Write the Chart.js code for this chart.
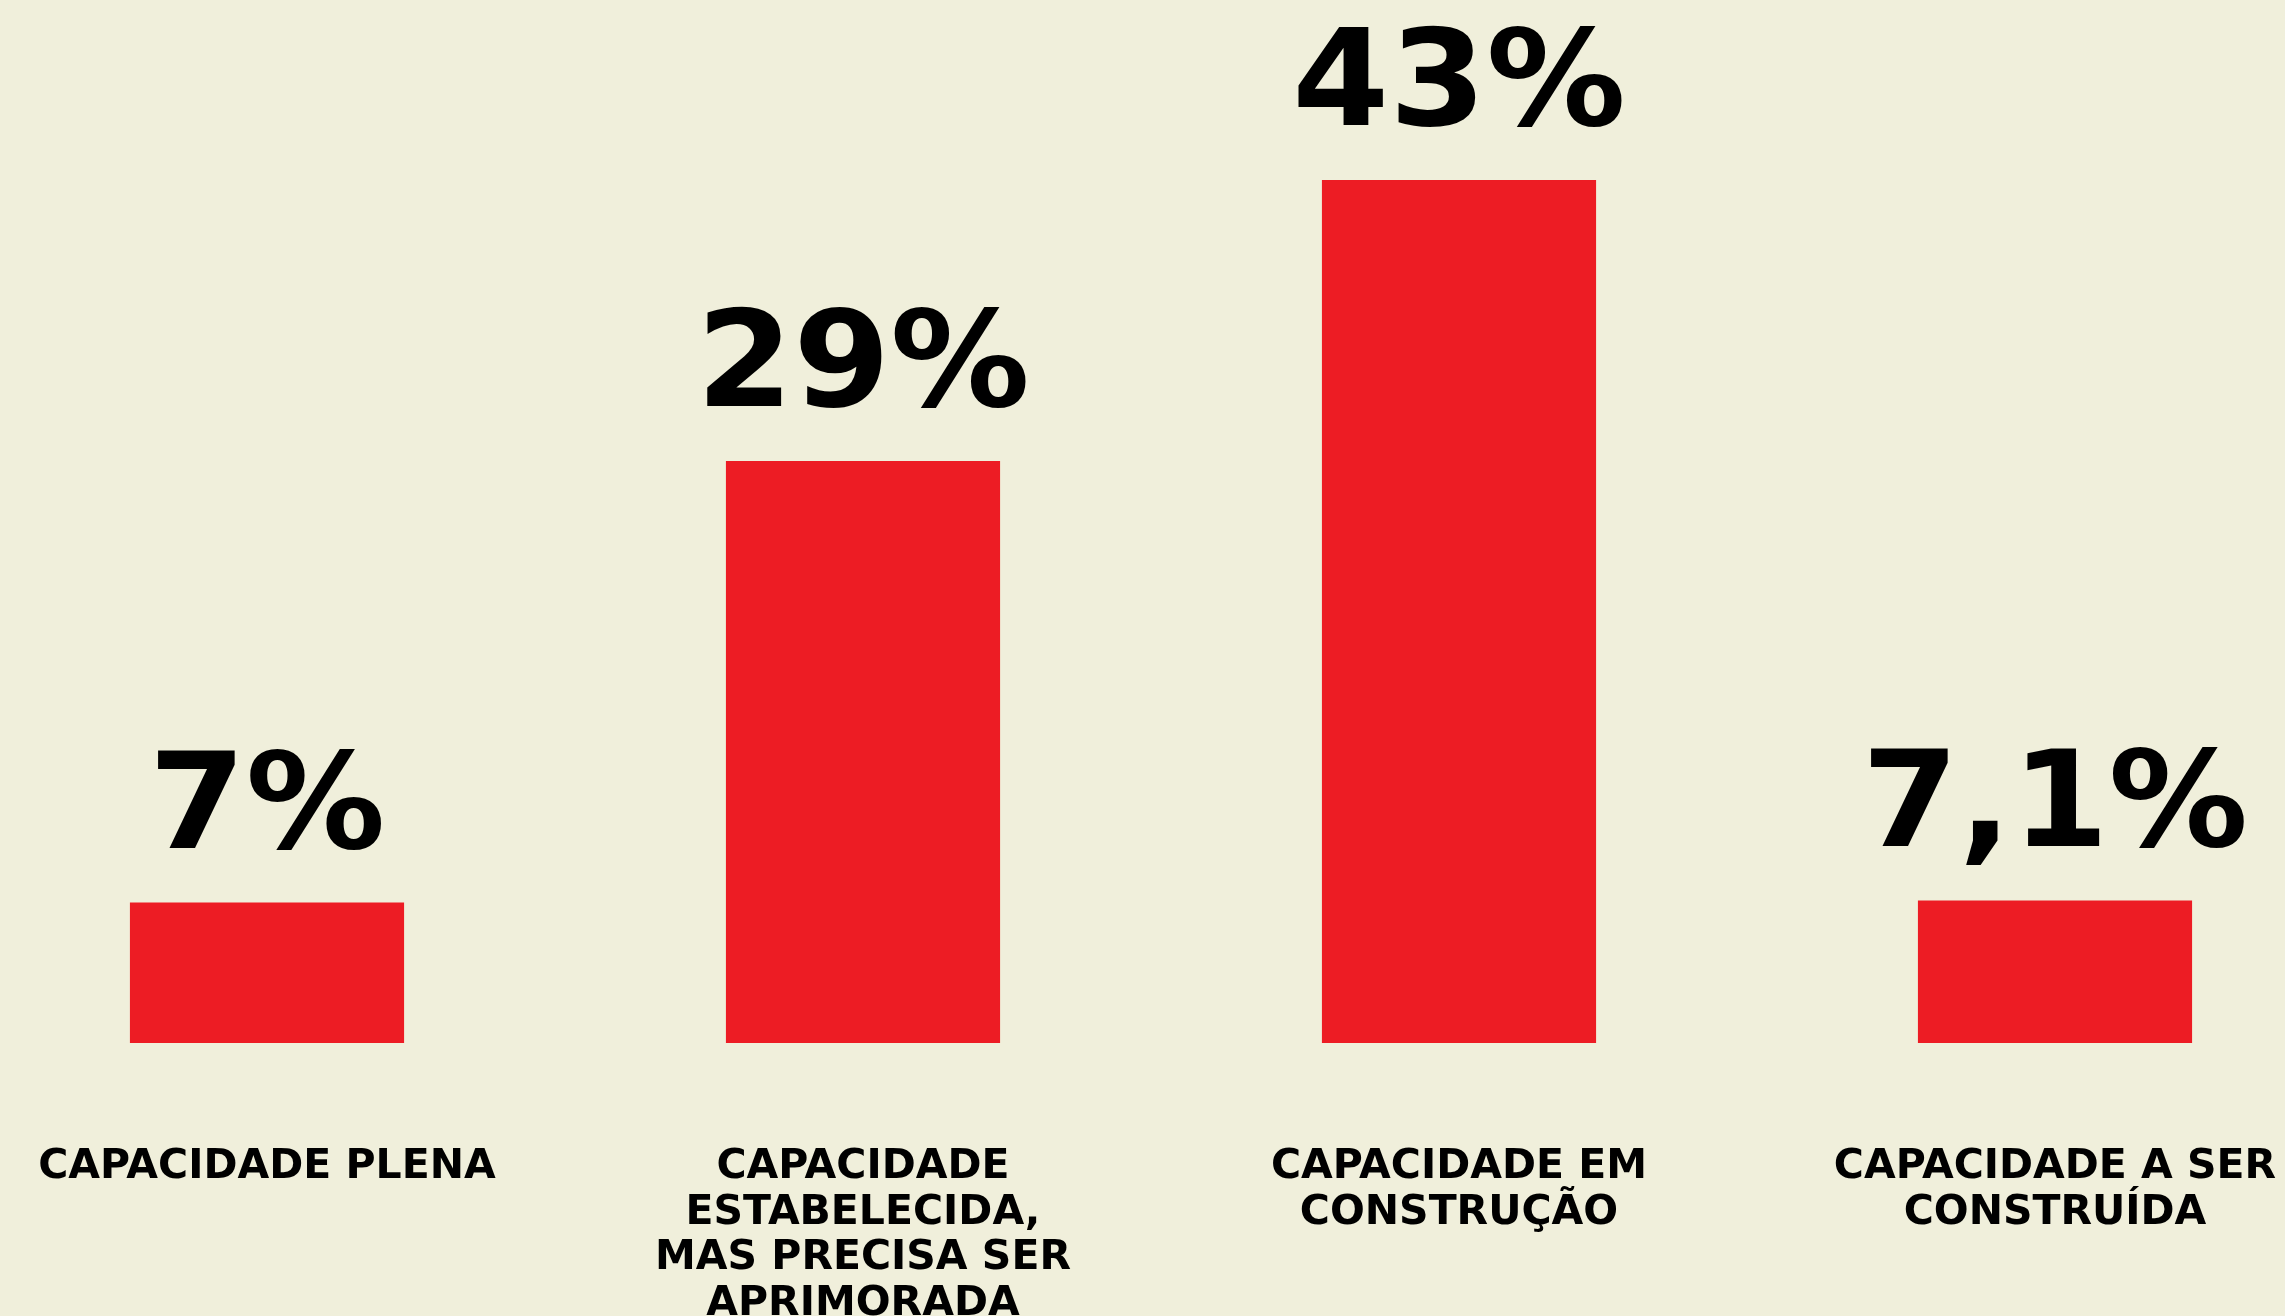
<!DOCTYPE html>
<html>
<head>
<meta charset="utf-8">
<script src="https://cdn.jsdelivr.net/npm/chart.js@4.4.1/dist/chart.umd.min.js"></script>
<style>
  html, body { margin: 0; padding: 0; background: #f0efdb; overflow: hidden; }
  canvas { display: block; }
</style>
</head>
<body>
<canvas id="myChart" width="2285" height="1316"></canvas>
<script>
// values from the picture
var categories = [
  ["CAPACIDADE PLENA"],
  ["CAPACIDADE", "ESTABELECIDA,", "MAS PRECISA SER", "APRIMORADA"],
  ["CAPACIDADE EM", "CONSTRUÇÃO"],
  ["CAPACIDADE A SER", "CONSTRUÍDA"]
];
var values = [7, 29, 43, 7.1];
var valueLabels = ["7%", "29%", "43%", "7,1%"];

// draws the big percentage above each bar
var valueLabelPlugin = {
  id: "valueLabels",
  afterDatasetsDraw: function (chart) {
    var ctx = chart.ctx;
    var meta = chart.getDatasetMeta(0);
    ctx.save();
    ctx.fillStyle = "#000000";
    ctx.font = "bold 134px 'DejaVu Sans'";
    ctx.textAlign = "center";
    ctx.textBaseline = "alphabetic";
    meta.data.forEach(function (bar, i) {
      ctx.save();
      ctx.translate(bar.x, bar.y - 55);
      ctx.scale(1.04, 1);
      ctx.fillText(valueLabels[i], 0, 0);
      ctx.restore();
    });
    ctx.restore();
  }
};

document.addEventListener("DOMContentLoaded", function () {
  var ctx = document.getElementById("myChart").getContext("2d");

  var myChart = new Chart(ctx, {
    type: "bar",
    data: {
      labels: categories,
      datasets: [
        {
          data: values,
          backgroundColor: "#ed1c24",
          borderWidth: 0,
          categoryPercentage: 1,
          barPercentage: 0.46,
          clip: false
        }
      ]
    },
    options: {
      responsive: false,
      maintainAspectRatio: false,
      animation: false,
      layout: {
        padding: { top: 180, left: 267, right: 230, bottom: 0 }
      },
      plugins: {
        legend: { display: false },
        tooltip: { enabled: false }
      },
      scales: {
        x: {
          offset: false,
          grid: { display: false, drawTicks: false },
          border: { display: false },
          ticks: {
            color: "#000000",
            padding: 101,
            maxRotation: 0,
            autoSkip: false,
            font: { family: "'DejaVu Sans'", weight: "bold", size: 41, lineHeight: 1.12 }
          },
          afterFit: function (scale) {
            scale.height = 273;
            scale.paddingLeft = 0;
            scale.paddingRight = 0;
          }
        },
        y: {
          display: false,
          min: 0,
          max: 43
        }
      }
    },
    plugins: [valueLabelPlugin]
  });
});
</script>
</body>
</html>
